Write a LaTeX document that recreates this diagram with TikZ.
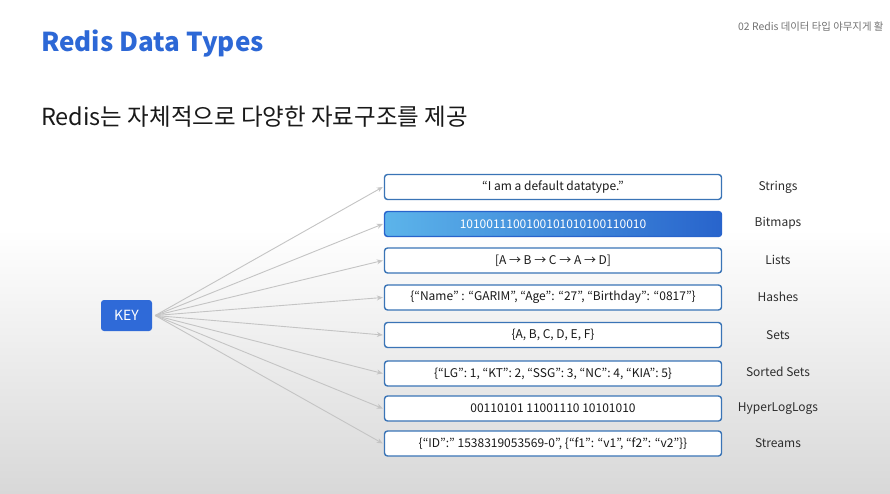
\documentclass[tikz,border=0pt]{standalone}
\usepackage{fontspec}
\setmainfont{Noto Sans CJK KR}
\usetikzlibrary{arrows.meta}
\definecolor{keyblue}{RGB}{47,106,216}
\definecolor{titleblue}{RGB}{45,104,214}
\definecolor{boxline}{RGB}{58,116,182}
\definecolor{arrowgray}{RGB}{196,196,196}
\definecolor{labelgray}{RGB}{45,45,45}
\definecolor{bgbottom}{RGB}{216,216,216}
\definecolor{bmleft}{RGB}{92,180,234}
\definecolor{bmright}{RGB}{40,100,204}
\tikzset{
  typebox/.style={draw=boxline, line width=1.4pt, rounded corners=3pt, fill=white,
    minimum width=337pt, minimum height=25pt, inner sep=0pt, font=\fontsize{12}{14}\selectfont, text=black!90},
  bitbox/.style={typebox, draw=bmright, left color=bmleft, right color=bmright, text=white},
  typelabel/.style={font=\fontsize{12}{14}\selectfont, text=labelgray},
  conn/.style={draw=arrowgray, line width=0.9pt, -{Stealth[length=6pt,width=5pt]}},
}
\begin{document}
\begin{tikzpicture}[x=1pt,y=-1pt]
\useasboundingbox (0,0) rectangle (890,494);
\fill[white] (0,0) rectangle (890,230);
\shade[top color=white, bottom color=bgbottom] (0,229) rectangle (890,494);

\node[anchor=west, text=black!55, font=\fontsize{10.4}{12}\selectfont, inner sep=0pt] (hdr) at (738,27) {02 Redis 데이터 타입 야무지게 활};
\node[anchor=west, text=titleblue, font=\bfseries\fontsize{26}{30}\selectfont, inner sep=0pt] (title) at (41,44) {Redis Data Types};
\node[anchor=west, text=black!90, font=\fontsize{23.5}{28}\selectfont, inner sep=0pt] (sub) at (41,117) {Redis는 자체적으로 다양한 자료구조를 제공};

\node[fill=keyblue, rounded corners=3pt, minimum width=51pt, minimum height=31pt, inner sep=0pt,
  text=white, font=\fontsize{14}{16}\selectfont] (key) at (126.5,315.5) {KEY};

\node[typebox] (b1) at (553,187) {“I am a default datatype.”};
\node[bitbox]  (b2) at (553,224) {1010011100100101010100110010};
\node[typebox] (b3) at (553,260.5) {[A → B → C → A → D]};
\node[typebox] (b4) at (553,297.5) {\{“Name” : “GARIM”, “Age”: “27”, “Birthday”: “0817”\}};
\node[typebox] (b5) at (553,335) {\{A, B, C, D, E, F\}};
\node[typebox] (b6) at (553,373.5) {\{“LG”: 1, “KT”: 2, “SSG”: 3, “NC”: 4, “KIA”: 5\}};
\node[typebox] (b7) at (553,408.5) {00110101 11001110 10101010};
\node[typebox] (b8) at (553,443.5) {\{“ID”:” 1538319053569-0”, \{“f1”: “v1”, “f2”: “v2”\}\}};

\node[typelabel] (l1) at (778,187) {Strings};
\node[typelabel] (l2) at (778,223) {Bitmaps};
\node[typelabel] (l3) at (778,260) {Lists};
\node[typelabel] (l4) at (778,297) {Hashes};
\node[typelabel] (l5) at (778,335) {Sets};
\node[typelabel] (l6) at (778,372) {Sorted Sets};
\node[typelabel] (l7) at (778,409) {HyperLogLogs};
\node[typelabel] (l8) at (778,443) {Streams};

\foreach \b in {b1,b2,b3,b4,b5,b6,b7,b8}
  \draw[conn] ([xshift=3pt]key.east) -- ([xshift=-1pt]\b.west);
\end{tikzpicture}
\end{document}
